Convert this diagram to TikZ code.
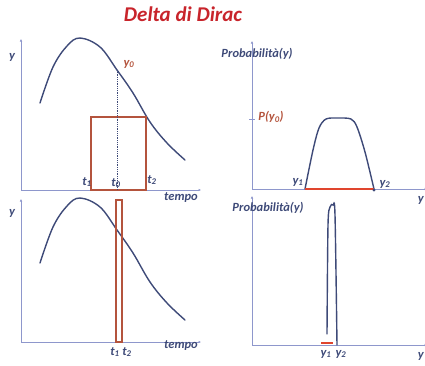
\documentclass[tikz,border=0pt]{standalone}
\usepackage{fontspec}
\setmainfont{Carlito}
\usepackage{xcolor}
\definecolor{Ink}{HTML}{3E4A78}
\definecolor{Axis}{HTML}{8E97CC}
\definecolor{Title}{HTML}{C8242B}
\definecolor{Brick}{HTML}{B4543D}
\definecolor{Mark}{HTML}{E0452E}
\usetikzlibrary{arrows.meta}

\begin{document}
\begin{tikzpicture}[
  x=1pt,y=-1pt,
  axis/.style={-{Latex[length=2.5pt,width=2.5pt]},line width=.7pt,draw=Axis},
  curve/.style={line width=1.4pt,draw=Ink,line cap=round},
  box/.style={line width=1.1pt,draw=Brick},
  lbl/.style={font=\bfseries\itshape\fontsize{12.5}{14}\selectfont,text=Ink,inner sep=1pt},
  red lbl/.style={lbl,text=Brick}
]
\useasboundingbox (0,0) rectangle (425,365);
\node[font=\bfseries\itshape\fontsize{21}{24}\selectfont,text=Title] (title) at (183,14) {Delta di Dirac};

% signal, long window
\coordinate (o1) at (21,190);
\draw[axis] (o1) -- (21,39);
\draw[axis] (o1) -- (201,190);
\node[lbl] (ya) at (12,57) {y};
\node[lbl] (tempoa) at (181,198) {tempo};
\draw[curve] plot[smooth,tension=.6] coordinates {(40,103) (53,67) (67,46) (80,38) (100,47) (117,70) (133,93) (150,122) (167,143) (185,160)};
\coordinate (p0) at (117,70);
\draw[box] (91,117) rectangle (146,190);
\draw[densely dotted,line width=.8pt,draw=Ink] (p0) -- (117,190);
\node[red lbl] (y0) at (129,64) {y\textsubscript{0}};
\node[lbl] (t1a) at (87,182) {t\textsubscript{1}};
\node[lbl] (t0a) at (116,183) {t\textsubscript{0}};
\node[lbl] (t2a) at (152,180) {t\textsubscript{2}};

% probability, wide
\coordinate (o2) at (252,189);
\draw[axis] (o2) -- (252,41);
\draw[axis] (o2) -- (427,189);
\node[lbl] (proba) at (257,54) {Probabilità(y)};
\draw[line width=.6pt,draw=Axis] (249,119) -- (255,119);
\node[red lbl] (py0) at (271,117) {P(y\textsubscript{0})};
\draw[curve] plot[smooth,tension=.5] coordinates {(305,189) (313,150) (319,128) (326,119) (338,118) (351,119) (357,127) (365,152) (374,189)};
\draw[line width=1.6pt,draw=Mark] (305,189) -- (374,189);
\fill[Ink] (374,190) circle (1.6pt);
\node[lbl] (y1a) at (298,182) {y\textsubscript{1}};
\node[lbl] (y2a) at (385,184) {y\textsubscript{2}};
\node[lbl,anchor=east] (yra) at (425,200) {y};

% signal, narrow window
\coordinate (o3) at (21,342);
\draw[axis] (o3) -- (21,199);
\draw[axis] (o3) -- (201,342);
\node[lbl] (yb) at (12,213) {y};
\node[lbl] (tempob) at (181,346) {tempo};
\draw[curve] plot[smooth,tension=.6] coordinates {(40,263) (53,227) (67,206) (80,198) (100,207) (117,230) (133,253) (150,282) (167,303) (185,320)};
\draw[box] (116,200) rectangle (122,342);
\node[lbl] (t1b) at (115,352) {t\textsubscript{1}};
\node[lbl] (t2b) at (127,352) {t\textsubscript{2}};

% probability, narrow
\coordinate (o4) at (252,345);
\draw[axis] (o4) -- (252,196);
\draw[axis] (o4) -- (427,345);
\node[lbl] (probb) at (268,208) {Probabilità(y)};
\draw[curve] plot[smooth,tension=.5] coordinates {(327,334) (328,225) (330,207) (333,205) (335,215) (337,345)};
\draw[line width=1.6pt,draw=Mark] (321,343) -- (333,343);
\node[lbl] (y1b) at (326,354) {y\textsubscript{1}};
\node[lbl] (y2b) at (341,354) {y\textsubscript{2}};
\node[lbl,anchor=east] (yrb) at (425,356) {y};
\end{tikzpicture}
\end{document}
